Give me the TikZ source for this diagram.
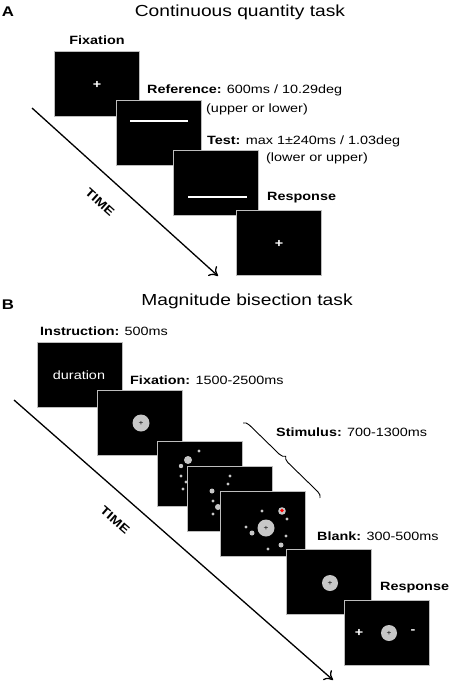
\documentclass[tikz,border=0pt]{standalone}
\usepackage{fontspec}
\setmainfont{Liberation Sans}[FakeStretch=1.2]
\usetikzlibrary{arrows.meta,decorations.pathreplacing}
\definecolor{rim}{gray}{0.74}
\definecolor{disc}{gray}{0.78}
\begin{document}
\begin{tikzpicture}[x=1pt,y=-1pt,
  screen/.style={draw=rim, line width=1.5pt, fill=black, minimum width=85pt, minimum height=65pt, inner sep=0pt},
  lab/.style={anchor=west, inner sep=0pt, font=\fontsize{12}{14}\selectfont},
  heading/.style={inner sep=0pt, font=\fontsize{16}{18}\selectfont},
  panel/.style={inner sep=0pt, font=\fontsize{14}{16}\selectfont\bfseries},
  timelab/.style={inner sep=0pt, font=\fontsize{12}{14}\selectfont\bfseries},
  timearrow/.style={line width=1.3pt, -{To[length=8pt,width=13pt]}},
  wplus/.style={inner sep=0pt, text=white, font=\fontsize{12}{14}\selectfont\bfseries},
  kplus/.style={inner sep=0pt, font=\fontsize{7}{8}\selectfont},
  dot/.style={fill=disc}]
\useasboundingbox (0,0) rectangle (454,686);

% panel A
\node[panel] (pA) at (8,12) {A};
\node[heading] (hA) at (240,12) {Continuous quantity task};
\coordinate (tA0) at (32,108);
\coordinate (tA1) at (218,276);
\draw[timearrow] (tA0) -- (tA1);
\node[timelab, rotate=-42] (timeA) at (100,202) {TIME};

\node[screen] (fixA) at (97,84) {};
\node[wplus] (fixAp) at (97,85) {+};
\node[screen] (refA) at (159,133) {};
\draw[white, line width=2pt] (130,121) -- (188,121);
\node[screen] (testA) at (216,183) {};
\draw[white, line width=2pt] (188,197) -- (247,197);
\node[screen] (respA) at (279,243) {};
\node[wplus] (respAp) at (279,244) {+};

\node[inner sep=0pt, font=\fontsize{12}{14}\selectfont\bfseries] (fixAl) at (97,40) {Fixation};
\node[lab] (refAl) at (147,90) {\textbf{Reference:} 600ms / 10.29deg};
\node[lab] (refAl2) at (206,109) {(upper or lower)};
\node[lab] (testAl) at (207,141) {\textbf{Test:} max 1±240ms / 1.03deg};
\node[lab] (testAl2) at (266,158) {(lower or upper)};
\node[lab] (respAl) at (267,198) {\textbf{Response}};

% panel B
\node[panel] (pB) at (8,305) {B};
\node[heading] (hB) at (247,301) {Magnitude bisection task};
\coordinate (tB0) at (14,400);
\coordinate (tB1) at (333,680);
\draw[timearrow] (tB0) -- (tB1);
\node[timelab, rotate=-41] (timeB) at (115,520) {TIME};

\node[screen] (insB) at (80,375) {};
\node[inner sep=0pt, text=white, font=\fontsize{12}{14}\selectfont] (insBt) at (79,375) {duration};
\node[screen] (fixB) at (140,423) {};
\fill[dot] (141,423) circle (8.5);
\node[kplus] (fixBp) at (141,423) {+};

\node[screen] (stB1) at (200,474) {};
\fill[dot] (188,460) circle (4);
\fill[dot] (199,451) circle (1.6);
\fill[dot] (181,466) circle (2.2);
\fill[dot] (181,476) circle (1.6);
\fill[dot] (186,482) circle (1.6);
\fill[dot] (183,489) circle (1.6);

\node[screen] (stB2) at (230,499) {};
\fill[dot] (230,476) circle (1.6);
\fill[dot] (228,484) circle (1.6);
\fill[dot] (212,491) circle (2.5);
\fill[dot] (213,501) circle (1.6);
\fill[dot] (218,507) circle (3);
\fill[dot] (213,514) circle (1.6);

\node[screen] (stB3) at (263,524) {};
\fill[dot] (266,528) circle (8.5);
\node[kplus] (stB3p) at (266,528) {+};
\fill[dot] (282,511) circle (3.8);
\fill[red] (282,510.5) circle (1.8);
\fill[dot] (262,511) circle (1.6);
\fill[dot] (287,519) circle (1.6);
\fill[dot] (246,527) circle (1.6);
\fill[dot] (252,533) circle (2.5);
\fill[dot] (286,536) circle (1.6);
\fill[dot] (281,545) circle (2.5);
\fill[dot] (268,549) circle (1.6);

\node[screen] (blkB) at (329,582) {};
\fill[dot] (330,583) circle (8);
\node[kplus] (blkBp) at (330,583) {+};

\node[screen] (respB) at (387,633) {};
\fill[dot] (389,633) circle (8);
\node[kplus] (respBp) at (389,633) {+};
\node[wplus] (respBl) at (359,633) {+};
\node[wplus] (respBr) at (413,632) {-};

\coordinate (brA) at (243,423);
\coordinate (brB) at (320,498);
\draw[line width=0.9pt, decorate, decoration={brace, amplitude=6pt}] (brA) -- (brB);

\node[lab] (insBl) at (40,331) {\textbf{Instruction:} 500ms};
\node[lab] (fixBl) at (130,380) {\textbf{Fixation:} 1500-2500ms};
\node[lab] (stBl) at (276,432) {\textbf{Stimulus:} 700-1300ms};
\node[lab] (blkBl) at (317,536) {\textbf{Blank:} 300-500ms};
\node[lab] (respBl2) at (380,588) {\textbf{Response}};
\end{tikzpicture}
\end{document}
